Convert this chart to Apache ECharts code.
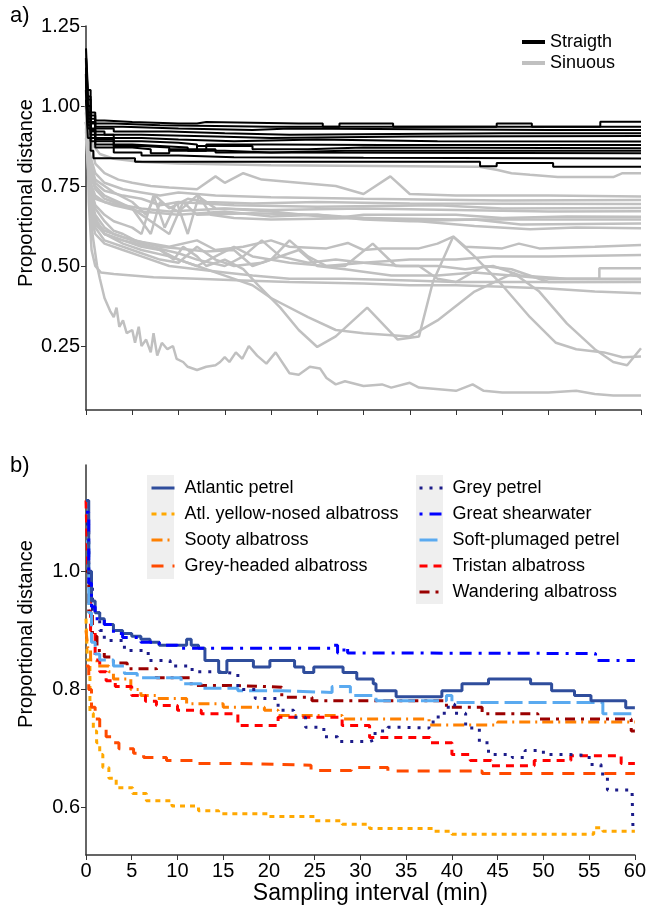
<!DOCTYPE html>
<html><head><meta charset="utf-8">
<script src="https://cdn.jsdelivr.net/npm/echarts@6/dist/echarts.min.js"></script>
<style>html,body{margin:0;padding:0;background:#fff}#c{width:649px;height:909px}</style>
</head><body><div id="c"></div>
<script>
// ---------- axis ticks ----------
const xTicks = [0,5,10,15,20,25,30,35,40,45,50,55,60];
const yTicksTop = [0.25,0.5,0.75,1.0,1.25];
const yTicksBottom = [0.6,0.8,1.0];

// ---------- panel a: straight tracks ([minutes, proportional distance]) ----------
const straight01 = [[0,1.18],[0.2,1.05],[0.5,0.98],[1,0.955],[2,0.95],[5,0.945],[10,0.945],[12,0.95],[13,0.945],[23,0.945],[25.6,0.935],[27.4,0.945],[33.2,0.935],[44.4,0.945],[48.2,0.935],[55.6,0.951],[60,0.951]];
const straight02 = [[0,1.15],[0.2,1.03],[0.5,0.97],[1,0.945],[3,0.94],[8,0.935],[20,0.935],[30,0.935],[40,0.935],[60,0.935]];
const straight03 = [[0,1.15],[0.2,1.02],[0.5,0.96],[1,0.935],[4,0.93],[10,0.925],[18,0.93],[22,0.925],[50,0.925],[60,0.925]];
const straight04 = [[0,1.12],[0.2,1.0],[0.5,0.95],[1,0.93],[3,0.92],[9,0.915],[15,0.91],[22,0.915],[45,0.915],[60,0.915]];
const straight05 = [[0,1.12],[0.2,1.0],[0.5,0.945],[1,0.92],[2,0.91],[6,0.905],[14,0.9],[20,0.905],[35,0.906],[60,0.906]];
const straight06 = [[0,1.1],[0.2,0.98],[0.5,0.93],[1,0.91],[3,0.9],[6,0.895],[10,0.89],[16,0.895],[25,0.89],[38,0.889],[60,0.889]];
const straight07 = [[0,1.1],[0.2,0.97],[0.5,0.925],[1,0.9],[3,0.89],[6,0.885],[10,0.88],[12,0.86],[13,0.88],[20,0.878],[32,0.878],[60,0.878]];
const straight08 = [[0,1.08],[0.2,0.96],[0.5,0.92],[1,0.895],[3,0.88],[5,0.875],[8,0.87],[11,0.86],[12,0.875],[18,0.865],[24,0.87],[30,0.868],[60,0.868]];
const straight09 = [[0,1.08],[0.2,0.95],[0.5,0.91],[1,0.89],[3,0.875],[6,0.87],[9,0.86],[15,0.855],[20,0.86],[28,0.86],[40,0.86],[60,0.86]];
const straight10 = [[0,1.05],[0.2,0.94],[0.5,0.9],[1,0.88],[3,0.87],[5,0.865],[7,0.852],[9,0.865],[14,0.855],[20,0.852],[60,0.852]];
const straight11 = [[0,1.05],[0.2,0.93],[0.5,0.89],[1,0.87],[3,0.855],[6,0.845],[10,0.84],[16,0.838],[30,0.836],[60,0.836]];
const straight12 = [[0,1.02],[0.2,0.9],[0.5,0.86],[0.8,0.837],[5.3,0.826],[42.6,0.812],[44.4,0.822],[50.5,0.81],[60,0.81]];

// ---------- panel a: sinuous tracks ----------
const sinuous01 = [[0,1.15],[0.3,0.95],[0.7,0.88],[1.5,0.85],[3,0.835],[6,0.825],[10,0.82],[20,0.815],[42.5,0.81],[44.5,0.8],[46,0.79],[48,0.785],[51,0.778],[57,0.778],[58,0.79],[60,0.79]];
const sinuous02 = [[0,1.1],[0.4,0.9],[1,0.82],[2,0.79],[3.5,0.77],[5,0.76],[7,0.75],[9,0.745],[12,0.74],[14,0.78],[15,0.76],[17,0.79],[19,0.77],[23,0.76],[27,0.75],[30,0.725],[32.9,0.78],[35,0.725],[40,0.72],[50,0.72],[60,0.717]];
const sinuous03 = [[0,1.05],[0.4,0.85],[1,0.79],[2,0.76],[4,0.74],[6,0.73],[8,0.72],[10,0.73],[14,0.72],[20,0.715],[30,0.71],[45,0.705],[60,0.706]];
const sinuous04 = [[0,1.0],[0.5,0.82],[1,0.77],[2,0.75],[3,0.73],[5,0.7],[6.5,0.66],[7.5,0.72],[9,0.68],[11,0.71],[13,0.7],[18,0.695],[25,0.7],[35,0.695],[60,0.694]];
const sinuous05 = [[0,1.0],[0.5,0.8],[1,0.76],[2,0.735],[4,0.72],[6,0.71],[8,0.69],[10,0.7],[16,0.69],[25,0.685],[38,0.69],[45,0.68],[60,0.681]];
const sinuous06 = [[0,0.98],[0.5,0.8],[1,0.75],[2,0.72],[3.5,0.7],[5,0.68],[7,0.6],[8,0.7],[10,0.67],[12,0.72],[14,0.68],[20,0.675],[30,0.68],[40,0.675],[50,0.67],[60,0.671]];
const sinuous07 = [[0,0.95],[0.5,0.78],[1,0.74],[2,0.71],[4,0.69],[6,0.68],[9,0.67],[15,0.68],[20,0.67],[27,0.65],[30,0.66],[40,0.66],[45,0.65],[52,0.655],[60,0.654]];
const sinuous08 = [[0,0.95],[0.5,0.76],[1,0.72],[2,0.7],[5,0.68],[9,0.6],[10.5,0.7],[12,0.66],[18,0.665],[25,0.66],[30,0.645],[35,0.64],[42,0.645],[47,0.63],[60,0.633]];
const sinuous09 = [[0,0.92],[0.5,0.75],[1,0.71],[3,0.69],[6,0.67],[10,0.66],[15,0.67],[20,0.655],[25,0.66],[30,0.65],[36,0.64],[42,0.625],[48,0.615],[53,0.62],[60,0.618]];
const sinuous10 = [[0,0.95],[0.5,0.74],[1,0.69],[2,0.66],[3,0.64],[4,0.63],[5,0.62],[6,0.6],[7.3,0.72],[8.5,0.62],[9.8,0.7],[11,0.6],[12.2,0.72],[13.5,0.66],[16,0.65],[20,0.645],[30,0.65],[40,0.645],[60,0.645]];
const sinuous11 = [[0,1.0],[0.5,0.72],[1,0.66],[2,0.62],[3,0.6],[5,0.58],[7,0.57],[9,0.56],[12,0.58],[14,0.55],[17,0.56],[20,0.58],[22,0.56],[26,0.555],[28.3,0.572],[30,0.55],[32,0.555],[36,0.555],[38,0.57],[39.7,0.592],[41,0.56],[45,0.555],[46.8,0.57],[49,0.555],[55,0.56],[60,0.566]];
const sinuous12 = [[0,0.98],[0.5,0.7],[1,0.64],[2,0.6],[4,0.58],[6,0.56],[8,0.55],[10,0.52],[12,0.5],[14,0.53],[16,0.56],[18,0.53],[22,0.51],[26,0.5],[30,0.51],[35,0.52],[40,0.52],[44,0.53],[50,0.53],[60,0.534]];
const sinuous13 = [[0,0.95],[0.5,0.68],[1,0.62],[2,0.58],[4,0.56],[6,0.54],[8,0.52],[10,0.51],[12,0.56],[14,0.52],[16,0.5],[19,0.51],[23,0.55],[25,0.5],[28,0.49],[33,0.47],[38,0.47],[42,0.48],[46,0.47],[50,0.46],[55.5,0.46],[55.5,0.493],[60,0.493]];
const sinuous14 = [[0,0.93],[0.5,0.66],[1,0.6],[2,0.57],[4,0.55],[6,0.53],[9,0.5],[12,0.49],[15,0.48],[18,0.47],[22,0.46],[28,0.46],[35,0.455],[40,0.45],[50,0.45],[60,0.451]];
const sinuous15 = [[0,1.1],[0.3,0.7],[0.6,0.55],[1,0.5],[1.6,0.48],[3,0.475],[7.3,0.465],[12,0.46],[17,0.455],[22,0.45],[30,0.445],[35,0.44],[40,0.44],[45,0.435],[50,0.43],[55,0.42],[60,0.415]];
const sinuous16 = [[0,1.1],[0.5,0.75],[1,0.68],[2,0.64],[3,0.61],[4,0.6],[5,0.585],[6,0.57],[8,0.55],[9.5,0.52],[10.5,0.56],[12,0.53],[13,0.5],[15,0.52],[17,0.49],[18.6,0.44],[21,0.37],[23,0.3],[25,0.247],[27,0.28],[30.4,0.37],[33.7,0.27],[36,0.28],[37.5,0.45],[39.7,0.592],[42,0.53],[45,0.44],[48,0.34],[50.8,0.26],[53,0.24],[56,0.23],[58,0.215],[60,0.217]];
const sinuous17 = [[0,1.05],[0.5,0.72],[1,0.65],[2,0.6],[4,0.57],[6,0.55],[9,0.53],[12,0.5],[15,0.47],[18,0.44],[20,0.4],[24,0.34],[27,0.3],[30,0.29],[35,0.28],[38,0.33],[42,0.42],[46.2,0.478],[49,0.42],[52,0.32],[55,0.24],[57,0.2],[58.5,0.19],[60,0.243]];
const sinuous18 = [[0,1.15],[0.3,0.8],[0.7,0.6],[1.2,0.5],[1.5,0.46],[2,0.4],[2.6,0.36],[3,0.34],[3.3,0.37],[3.6,0.31],[4,0.33],[4.4,0.29],[5,0.3],[5.3,0.26],[5.7,0.31],[6,0.25],[6.5,0.27],[7,0.23],[7.3,0.29],[7.7,0.22],[8.2,0.26],[8.8,0.24],[9.4,0.25],[9.8,0.21],[10.5,0.2],[11,0.185],[12,0.175],[13,0.185],[14,0.19],[14.5,0.2],[15,0.215],[15.5,0.2],[16.2,0.23],[16.9,0.21],[17.6,0.25],[18.5,0.22],[19.5,0.195],[20.5,0.23],[22,0.165],[23,0.16],[24.2,0.185],[25.3,0.18],[26,0.15],[27,0.13],[28,0.14],[30,0.125],[32,0.13],[33,0.12],[35,0.135],[36,0.12],[40,0.11],[41.8,0.13],[43,0.11],[45,0.105],[50,0.105],[53,0.11],[55,0.1],[57,0.095],[60,0.095]];
const sinuous19 = [[0,0.95],[0.5,0.7],[1,0.64],[2,0.61],[4,0.59],[6,0.575],[8,0.56],[10,0.555],[13,0.545],[16,0.55],[18,0.5],[20,0.52],[22,0.58],[24,0.53],[26,0.5],[28,0.5],[31,0.57],[33.5,0.5],[36,0.5],[38,0.46],[40,0.45],[43,0.5],[46,0.49],[50,0.45],[55,0.45],[60,0.45]];
const sinuous20 = [[0,0.9],[0.5,0.69],[1,0.63],[2,0.6],[4,0.58],[7,0.56],[10,0.54],[12,0.52],[15,0.5],[17,0.53],[19,0.58],[21,0.53],[24,0.51],[27,0.52],[30,0.51],[34,0.5],[38,0.5],[41,0.49],[44,0.5],[47,0.47],[52,0.46],[56,0.46],[60,0.46]];

// ---------- panel b: species ----------
const speciesNames = ['Atlantic petrel','Atl. yellow-nosed albatross','Sooty albatross','Grey-headed albatross','Grey petrel','Great shearwater','Soft-plumaged petrel','Tristan albatross','Wandering albatross'];
const atlanticPetrel = [[0,1.12],[0.3,1.0],[0.6,0.95],[1,0.93],[1.5,0.92],[2,0.91],[3,0.9],[4,0.895],[5,0.89],[6,0.885],[7,0.88],[8,0.875],[11,0.885],[11.5,0.875],[12.3,0.87],[13,0.849],[14.5,0.829],[15.4,0.849],[18.3,0.838],[20.1,0.849],[22.8,0.838],[23.8,0.829],[24.9,0.838],[28.1,0.829],[29.6,0.818],[31.4,0.81],[31.7,0.798],[33.9,0.788],[38.9,0.798],[41.1,0.81],[44,0.818],[48.6,0.81],[50.9,0.798],[53.4,0.79],[55.2,0.781],[59,0.769],[60,0.769]];
const yellowNosed = [[0,0.92],[0.15,0.85],[0.43,0.76],[0.8,0.73],[1.16,0.71],[1.5,0.69],[1.84,0.668],[2.5,0.65],[3.3,0.634],[5.1,0.624],[6.6,0.612],[9.4,0.603],[12.3,0.595],[14.5,0.59],[20,0.585],[25,0.578],[28,0.572],[31,0.565],[38,0.56],[40,0.555],[55.5,0.566],[56.5,0.56],[60,0.56]];
const sootyAlbatross = [[0,0.9],[0.2,0.87],[0.5,0.85],[1.2,0.84],[2.5,0.83],[3,0.818],[4.9,0.8],[6,0.79],[7.7,0.785],[11,0.776],[15,0.77],[19.5,0.765],[21,0.756],[28,0.75],[37.5,0.74],[45,0.745],[60,0.745]];
const greyHeaded = [[0,0.84],[0.3,0.8],[0.6,0.77],[1,0.75],[1.5,0.735],[2.2,0.72],[3,0.71],[3.6,0.7],[5.2,0.692],[6.3,0.685],[8.8,0.68],[12,0.675],[16,0.672],[24.6,0.663],[29,0.668],[33,0.662],[43.3,0.658],[60,0.658]];
const greyPetrel = [[0,1.08],[0.3,0.98],[0.7,0.93],[1.5,0.9],[2,0.883],[4.2,0.866],[6.8,0.849],[9.2,0.84],[11.6,0.83],[14.5,0.827],[16.6,0.8],[18.5,0.785],[21,0.765],[22.7,0.753],[24,0.736],[26,0.72],[27.5,0.712],[31,0.715],[31.6,0.73],[33,0.736],[35,0.735],[37.5,0.745],[38.5,0.76],[39.6,0.775],[40.3,0.76],[41.5,0.735],[43,0.71],[44,0.69],[46.6,0.685],[48,0.697],[50,0.69],[53,0.688],[55,0.673],[56.3,0.657],[57,0.63],[59.7,0.62],[59.8,0.561],[60,0.561]];
const greatShearwater = [[0,1.1],[0.3,0.98],[0.6,0.94],[1,0.92],[2,0.91],[3,0.895],[4,0.888],[6,0.88],[8,0.875],[10,0.87],[27,0.875],[27.5,0.862],[28.2,0.872],[28.6,0.862],[29,0.861],[55.7,0.849],[60,0.849]];
const softPlumaged = [[0,1.05],[0.3,0.93],[0.6,0.88],[1,0.86],[1.5,0.85],[3,0.84],[4.2,0.827],[5.6,0.82],[10.4,0.81],[12.6,0.802],[16.6,0.798],[21.4,0.795],[26.9,0.805],[28.9,0.79],[31.7,0.781],[39.4,0.79],[40,0.778],[56.5,0.759],[60,0.759]];
const tristanAlbatross = [[0,1.12],[0.2,1.0],[0.5,0.9],[1,0.85],[1.5,0.83],[2.2,0.815],[3.2,0.805],[5,0.79],[6.5,0.78],[7.7,0.773],[10,0.765],[12.6,0.759],[16.6,0.739],[21,0.753],[28,0.739],[31,0.719],[37.6,0.71],[40,0.69],[42,0.68],[44.3,0.671],[49,0.68],[53,0.688],[58.5,0.675],[60,0.675]];
const wanderingAlbatross = [[0,1.0],[0.3,0.93],[0.7,0.89],[1.2,0.866],[2,0.855],[3,0.845],[4.5,0.835],[7.7,0.82],[11.5,0.807],[16,0.804],[21.4,0.787],[24.7,0.781],[38,0.781],[39.4,0.77],[43.3,0.759],[49.4,0.75],[59.6,0.73],[60,0.73]];

// ---------- build ----------
const straightSets = [straight01,straight02,straight03,straight04,straight05,straight06,straight07,straight08,straight09,straight10,straight11,straight12];
const sinuousSets = [sinuous01,sinuous02,sinuous03,sinuous04,sinuous05,sinuous06,sinuous07,sinuous08,sinuous09,sinuous10,sinuous11,sinuous12,sinuous13,sinuous14,sinuous15,sinuous16,sinuous17,sinuous18,sinuous19,sinuous20];
const speciesSets = [atlanticPetrel,yellowNosed,sootyAlbatross,greyHeaded,greyPetrel,greatShearwater,softPlumaged,tristanAlbatross,wanderingAlbatross];
const speciesStyle = [
  {color:'#2f4d9c', type:'solid'},
  {color:'#ffa800', type:[5,5]},
  {color:'#ff8000', type:[11,5,2,5]},
  {color:'#ff4a00', type:[12,9]},
  {color:'#1c1c8a', type:[3,7]},
  {color:'#0000ff', type:[3,7,12,7]},
  {color:'#5aaaf0', type:[18,6]},
  {color:'#ff0000', type:[8,6]},
  {color:'#9a0000', type:[10,6,3,6]}
];
const FONT = 'Liberation Sans, Arial, sans-serif';
const series = [];
sinuousSets.forEach(d => series.push({name:'Sinuous', type:'line', xAxisIndex:0, yAxisIndex:0, data:d, symbol:'none', color:'#c0c0c0', lineStyle:{color:'#c0c0c0', width:2.5}, silent:true, animation:false}));
straightSets.forEach(d => series.push({name:'Straigth', type:'line', step:'end', xAxisIndex:0, yAxisIndex:0, data:d, symbol:'none', color:'#000', lineStyle:{color:'#000', width:2}, silent:true, animation:false}));
const drawOrder = [1,3,2,7,8,6,4,0,5];
drawOrder.forEach(i => series.push({name:speciesNames[i], type:'line', step:'end', xAxisIndex:1, yAxisIndex:1, data:speciesSets[i], symbol:'none', color:speciesStyle[i].color, lineStyle:{color:speciesStyle[i].color, width:3, type:speciesStyle[i].type, cap:'butt'}, silent:true, animation:false}));

const axisCommon = {
  axisLine:{show:true, lineStyle:{color:'#333', width:1.5}},
  axisTick:{show:true, inside:false, length:5, lineStyle:{color:'#333'}},
  splitLine:{show:false}
};
const legendCommon = {orient:'vertical', itemWidth:23, itemHeight:14, selectedMode:false, itemStyle:{opacity:0, borderWidth:0}};
const option = {
  animation:false,
  textStyle:{fontFamily:FONT},
  grid:[{left:86, top:26, width:555, height:384}, {left:86, top:465, width:555, height:390}],
  xAxis:[
    Object.assign({type:'value', gridIndex:0, min:0, max:60, interval:5, axisLabel:{show:false}}, axisCommon),
    Object.assign({type:'value', gridIndex:1, min:0, max:60, interval:5,
      axisLabel:{show:true, fontSize:20, color:'#000', margin:6, fontFamily:FONT, customValues:xTicks},
      name:'Sampling interval (min)', nameLocation:'middle', nameGap:19,
      nameTextStyle:{fontSize:23, color:'#000', fontFamily:FONT, padding:[0,0,0,20]}}, axisCommon)
  ],
  yAxis:[
    Object.assign({type:'value', gridIndex:0, min:0.05, max:1.25,
      axisLabel:{fontSize:20, color:'#000', margin:6, fontFamily:FONT, customValues:yTicksTop, formatter:v=>v.toFixed(2)}}, axisCommon,
      {axisTick:{show:true, length:5, customValues:yTicksTop, lineStyle:{color:'#333'}}}),
    Object.assign({type:'value', gridIndex:1, min:0.52, max:1.18,
      axisLabel:{fontSize:20, color:'#000', margin:6, fontFamily:FONT, customValues:yTicksBottom, formatter:v=>v.toFixed(1)}}, axisCommon,
      {axisTick:{show:true, length:5, customValues:yTicksBottom, lineStyle:{color:'#333'}}})
  ],
  legend:[
    Object.assign({data:['Straigth','Sinuous'], left:515, top:28, itemGap:3, lineStyle:{width:4},
     textStyle:{fontSize:18, color:'#000', fontFamily:FONT}}, legendCommon),
    Object.assign({data:speciesNames.slice(0,4), left:145, top:474, itemGap:8, lineStyle:{width:3},
     textStyle:{fontSize:18, color:'#000', fontFamily:FONT, padding:[0,0,0,5]}}, legendCommon),
    Object.assign({data:speciesNames.slice(4), left:413, top:474, itemGap:8, lineStyle:{width:3},
     textStyle:{fontSize:18, color:'#000', fontFamily:FONT, padding:[0,0,0,5]}}, legendCommon)
  ],
  graphic:[
    {type:'rect', left:147, top:475, shape:{width:27, height:104}, style:{fill:'#efefef'}, z:-1, silent:true},
    {type:'rect', left:416, top:475, shape:{width:27, height:129}, style:{fill:'#efefef'}, z:-1, silent:true},
    {type:'text', left:10, top:5, style:{text:'a)', fontSize:22, fill:'#000', fontFamily:FONT}},
    {type:'text', left:10, top:455, style:{text:'b)', fontSize:22, fill:'#000', fontFamily:FONT}},
    {type:'text', x:26, y:193, rotation:Math.PI/2, style:{text:'Proportional distance', fontSize:20, fill:'#000', fontFamily:FONT, textAlign:'center', textVerticalAlign:'middle'}},
    {type:'text', x:26, y:634, rotation:Math.PI/2, style:{text:'Proportional distance', fontSize:20, fill:'#000', fontFamily:FONT, textAlign:'center', textVerticalAlign:'middle'}}
  ],
  series:series
};
const chart = echarts.init(document.getElementById('c'), null, {renderer:'canvas'});
chart.setOption(option);
</script>
</body></html>
